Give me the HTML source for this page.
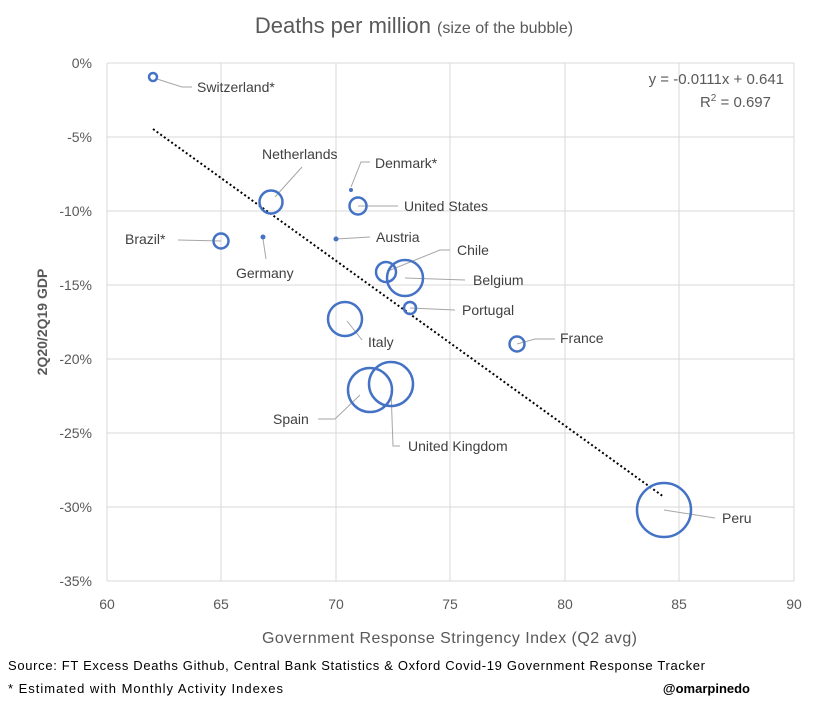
<!DOCTYPE html>
<html><head><meta charset="utf-8"><style>
body{margin:0;background:#fff;}
svg{display:block;font-family:"Liberation Sans",sans-serif;}
</style></head><body>
<svg width="828" height="708" viewBox="0 0 828 708">
<rect width="828" height="708" fill="#fff"/>
<text x="414" y="33" text-anchor="middle" font-size="22" fill="#595959">Deaths per million <tspan font-size="16">(size of the bubble)</tspan></text>
<g stroke="#d9d9d9" stroke-width="1">
<line x1="107" y1="63" x2="794" y2="63"/><line x1="107" y1="137" x2="794" y2="137"/>
<line x1="107" y1="211" x2="794" y2="211"/><line x1="107" y1="285" x2="794" y2="285"/>
<line x1="107" y1="359" x2="794" y2="359"/><line x1="107" y1="433" x2="794" y2="433"/>
<line x1="107" y1="507" x2="794" y2="507"/><line x1="107" y1="581" x2="794" y2="581"/>
<line x1="107" y1="63" x2="107" y2="581"/><line x1="221" y1="63" x2="221" y2="581"/>
<line x1="336" y1="63" x2="336" y2="581"/><line x1="450" y1="63" x2="450" y2="581"/>
<line x1="565" y1="63" x2="565" y2="581"/><line x1="679" y1="63" x2="679" y2="581"/>
<line x1="794" y1="63" x2="794" y2="581"/>
</g>
<g font-size="14" fill="#595959" text-anchor="end">
<text x="92" y="68">0%</text><text x="92" y="142">-5%</text><text x="92" y="216">-10%</text>
<text x="92" y="290">-15%</text><text x="92" y="364">-20%</text><text x="92" y="438">-25%</text>
<text x="92" y="512">-30%</text><text x="92" y="586">-35%</text>
</g>
<g font-size="14" fill="#595959" text-anchor="middle">
<text x="107" y="609">60</text><text x="221" y="609">65</text><text x="336" y="609">70</text>
<text x="450" y="609">75</text><text x="565" y="609">80</text><text x="679" y="609">85</text><text x="794" y="609">90</text>
</g>
<text x="262" y="643" textLength="375" font-size="16" fill="#595959">Government Response Stringency Index (Q2 avg)</text>
<text transform="translate(47,322) rotate(-90)" text-anchor="middle" font-size="14" font-weight="bold" fill="#595959">2Q20/2Q19 GDP</text>
<text x="784" y="84" text-anchor="end" font-size="15" fill="#595959">y = -0.0111x + 0.641</text>
<text x="771" y="107" text-anchor="end" font-size="15" fill="#595959">R<tspan font-size="10" dy="-6">2</tspan><tspan dy="6"> = 0.697</tspan></text>
<line x1="153" y1="129" x2="664" y2="497" stroke="#000" stroke-width="2" stroke-dasharray="2,2.5"/>
<g stroke="#a6a6a6" stroke-width="1" fill="none">
<polyline points="157,79 182,87 192,87"/>
<polyline points="275,197 302,167"/>
<polyline points="351,187 361,162 370,162"/>
<polyline points="358,206 398,206"/>
<polyline points="178,240 221,241"/>
<polyline points="263,239 266,259"/>
<polyline points="336,239 370,237"/>
<polyline points="388,271 440,250 450,250"/>
<polyline points="405,278 465,280"/>
<polyline points="410,308 455,310"/>
<polyline points="347,321 362,340"/>
<polyline points="318,419 335,419 360,395"/>
<polyline points="391,390 393,446 400,446"/>
<polyline points="517,344 535,339 555,339"/>
<polyline points="664,510 715,518"/>
</g>
<g stroke="#4472c4" stroke-width="2.5" fill="none">
<circle cx="153" cy="77" r="4"/>
<circle cx="271" cy="202" r="11.5"/>
<circle cx="358" cy="206" r="8.5"/>
<circle cx="221" cy="241" r="7.5"/>
<circle cx="386" cy="272" r="10"/>
<circle cx="405" cy="278" r="18"/>
<circle cx="410" cy="308" r="6"/>
<circle cx="345" cy="319" r="17"/>
<circle cx="370" cy="390" r="22"/>
<circle cx="391" cy="384" r="22"/>
<circle cx="517" cy="344" r="7.5"/>
<circle cx="664" cy="510" r="27"/>
</g>
<g fill="#4472c4"><circle cx="351" cy="190" r="2"/><circle cx="263" cy="237" r="2.5"/><circle cx="336" cy="239" r="2.5"/></g>
<g font-size="14" fill="#404040">
<text x="197" y="92">Switzerland*</text>
<text x="262" y="159">Netherlands</text>
<text x="375" y="168">Denmark*</text>
<text x="404" y="211">United States</text>
<text x="125" y="244">Brazil*</text>
<text x="236" y="278">Germany</text>
<text x="376" y="242">Austria</text>
<text x="457" y="255">Chile</text>
<text x="473" y="285">Belgium</text>
<text x="462" y="315">Portugal</text>
<text x="368" y="347">Italy</text>
<text x="273" y="424">Spain</text>
<text x="408" y="451">United Kingdom</text>
<text x="560" y="343">France</text>
<text x="722" y="523">Peru</text>
</g>
<text x="8" y="670" textLength="697" font-size="13" fill="#000">Source: FT Excess Deaths Github, Central Bank Statistics &amp; Oxford Covid-19 Government Response Tracker</text>
<text x="8" y="693" textLength="275" font-size="13" fill="#000">* Estimated with Monthly Activity Indexes</text>
<text x="750" y="693" text-anchor="end" font-size="13" font-weight="bold" fill="#000">@omarpinedo</text>
</svg>
</body></html>
